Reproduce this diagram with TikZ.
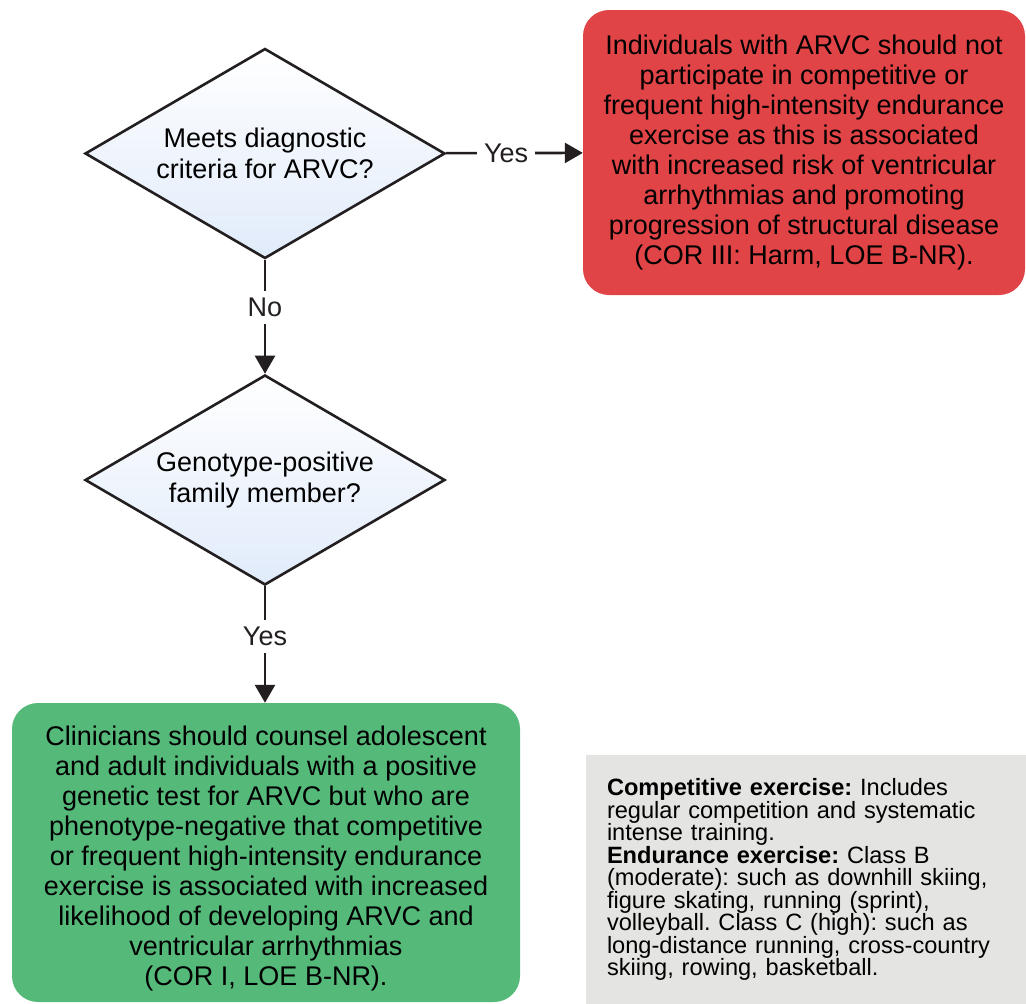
\documentclass[tikz,border=0pt]{standalone}
\usepackage{fontspec}
\setmainfont{Liberation Sans}
\usetikzlibrary{arrows.meta,shapes.geometric}
\definecolor{harmred}{HTML}{E14446}
\definecolor{okgreen}{HTML}{55B97A}
\definecolor{notegray}{HTML}{E4E4E2}
\definecolor{diabot}{HTML}{E0EBFA}
\definecolor{inkblack}{HTML}{231F20}
\tikzset{
    question/.style={diamond, draw=inkblack, line width=2.6pt, top color=white, middle color=white!70!diabot,
        bottom color=diabot, aspect=1.7, inner sep=0pt, minimum width=360pt, minimum height=210pt,
        align=center, font=\fontsize{27}{30.5}\selectfont},
    advice/.style={rounded corners=26pt, inner sep=0pt, align=center, text=black,
        font=\fontsize{27}{30}\selectfont},
    flow/.style={line width=2.6pt, draw=inkblack, -{Triangle[width=20pt,length=18pt]}},
    answer/.style={fill=white, inner sep=7pt, text=inkblack, font=\fontsize{27}{30}\selectfont}
}
\frenchspacing
\begin{document}
\begin{tikzpicture}[x=1pt,y=-1pt]
        \useasboundingbox (0,0) rectangle (1026,1004);
        \node[question] at (265,153.5) (crit) {Meets diagnostic\\criteria for ARVC?};
        \node[question] at (265,480) (geno) {Genotype-positive\\family member?};
        \node[advice, fill=harmred, minimum width=442pt, minimum height=285pt] at (804,152.5) (harm)
            {Individuals with ARVC should not\\participate in competitive or\\frequent high-intensity endurance\\exercise as this is associated\\with increased risk of ventricular\\arrhythmias and promoting\\progression of structural disease\\(COR III: Harm, LOE B-NR).};
        \node[advice, fill=okgreen, minimum width=508pt, minimum height=299pt] at (266,852.5) (counsel)
            {\rule{0pt}{32pt}Clinicians should counsel adolescent\\and adult individuals with a positive\\genetic test for ARVC but who are\\phenotype-negative that competitive\\or frequent high-intensity endurance\\exercise is associated with increased\\likelihood of developing ARVC and\\ventricular arrhythmias\\(COR I, LOE B-NR).};
        \node[fill=notegray, inner sep=0pt, minimum width=443pt, minimum height=249pt, text width=400pt,
            align=left, font=\fontsize{23.6}{22.5}\selectfont] at (807,879.5) (defs)
            {\textbf{Competitive exercise:} Includes\\regular competition and systematic\\intense training.\\\textbf{Endurance exercise:} Class B\\(moderate): such as downhill skiing,\\figure skating, running (sprint),\\volleyball. Class C (high): such as\\long-distance running, cross-country\\skiing, rowing, basketball.};
        \draw[flow] (crit) -- node[answer, pos=0.44] {Yes} (harm);
        \draw[flow] (crit) -- node[answer, pos=0.42] {No} (geno);
        \draw[flow] (geno.south) -- node[answer, pos=0.43] {Yes} (geno.south |- counsel.north);
    \end{tikzpicture}
\end{document}
